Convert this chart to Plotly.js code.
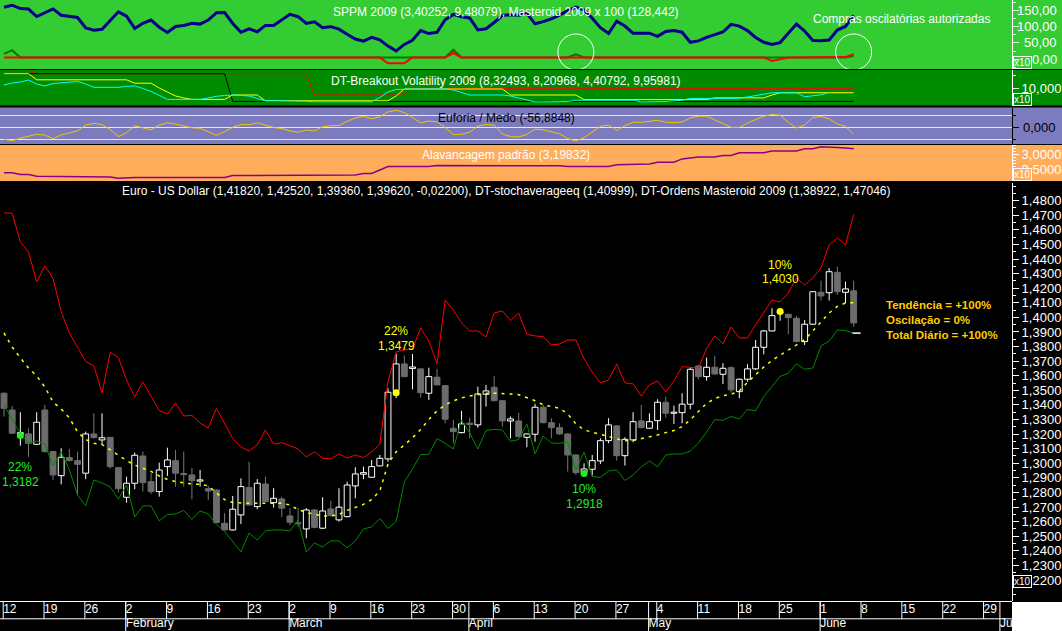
<!DOCTYPE html>
<html><head><meta charset="utf-8">
<script src="https://cdn.plot.ly/plotly-3.0.1.min.js"></script>
<style>html,body{margin:0;padding:0;background:#000;overflow:hidden}#chart{width:1062px;height:631px}</style>
</head><body><div id="chart"></div>
<script>
// ---------------- DATA ----------------
const firstDate = '2009-01-12';
const mainTitle = 'Euro - US Dollar (1,41820, 1,42520, 1,39360, 1,39620, -0,02200), DT-stochaverageeq (1,40999), DT-Ordens Masteroid 2009 (1,38922, 1,47046)';
const p1Title = 'SPPM 2009 (3,40252, 9,48079), Masteroid 2009 x 100 (128,442)';
const p1Note = 'Compras oscilatórias autorizadas';
const p2Title = 'DT-Breakout Volatility 2009 (8,32493, 8,20968, 4,40792, 9,95981)';
const p3Title = 'Euforia / Medo (-56,8848)';
const p4Title = 'Alavancagem padrão (3,19832)';
const summaryLines = ['Tendência = +100%', 'Oscilação = 0%', 'Total Diário = +100%'];

const open = [1.3480,1.3365,1.3200,1.3201,1.3130,1.3365,1.3080,1.2915,1.3039,1.3018,
1.2932,1.3201,1.3160,1.3178,1.2970,1.2767,1.2863,1.3050,1.2874,1.2806,
1.2977,1.3018,1.2930,1.2920,1.2878,1.2826,1.2817,1.2589,1.2543,1.2646,
1.2833,1.2703,1.2858,1.2730,1.2755,1.2639,1.2592,1.2550,1.2680,1.2555,
1.2687,1.2612,1.2634,1.2845,1.2925,1.2904,1.2982,1.3030,1.3498,1.3681,
1.3650,1.3647,1.3480,1.3590,1.3532,1.3240,1.3210,1.3275,1.3263,1.3473,
1.3521,1.3429,1.3290,1.3290,1.3178,1.3199,1.3384,1.3278,1.3244,1.3201,
1.3057,1.2936,1.2959,1.3016,1.3155,1.3256,1.3052,1.3160,1.3290,1.3240,
1.3292,1.3418,1.3343,1.3347,1.3405,1.3667,1.3594,1.3658,1.3610,1.3655,
1.3491,1.3576,1.3647,1.3795,1.3907,1.4030,1.4021,1.3994,1.3834,1.3953,
1.4172,1.4169,1.4309,1.4172,1.4182];
const high = [1.3485,1.3393,1.3350,1.3240,1.3350,1.3400,1.3085,1.3103,1.3098,1.3080,
1.3217,1.3343,1.3343,1.3180,1.2975,1.2908,1.3073,1.3080,1.2932,1.3004,
1.3107,1.3091,1.3080,1.2967,1.2954,1.2845,1.2820,1.2658,1.2776,1.2897,
1.3011,1.2891,1.2908,1.2829,1.2770,1.2692,1.2692,1.2692,1.2685,1.2767,
1.2744,1.2829,1.2874,1.2973,1.2977,1.3023,1.3057,1.3514,1.3749,1.3738,
1.3749,1.3650,1.3655,1.3647,1.3535,1.3297,1.3359,1.3313,1.3525,1.3537,
1.3598,1.3432,1.3320,1.3347,1.3205,1.3407,1.3400,1.3309,1.3274,1.3205,
1.3060,1.3000,1.3057,1.3171,1.3309,1.3260,1.3178,1.3350,1.3400,1.3343,
1.3439,1.3457,1.3395,1.3480,1.3658,1.3674,1.3724,1.3736,1.3686,1.3665,
1.3580,1.3679,1.3845,1.3914,1.4063,1.4045,1.4025,1.4010,1.3982,1.4180,
1.4252,1.4337,1.4348,1.4245,1.4252];
const low = [1.3320,1.3201,1.3120,1.3045,1.3128,1.3075,1.2886,1.2856,1.3015,1.2783,
1.2891,1.3170,1.3125,1.2963,1.2799,1.2730,1.2822,1.2806,1.2790,1.2771,
1.2913,1.2840,1.2840,1.2753,1.2840,1.2749,1.2590,1.2540,1.2540,1.2584,
1.2710,1.2685,1.2735,1.2696,1.2630,1.2577,1.2565,1.2486,1.2555,1.2550,
1.2635,1.2600,1.2630,1.2760,1.2891,1.2900,1.2980,1.3011,1.3446,1.3590,
1.3507,1.3450,1.3434,1.3535,1.3274,1.3137,1.3205,1.3172,1.3244,1.3388,
1.3425,1.3251,1.3172,1.3180,1.3110,1.3148,1.3275,1.3172,1.3195,1.2943,
1.2920,1.2920,1.2915,1.2995,1.3137,1.3018,1.2984,1.3144,1.3240,1.3238,
1.3228,1.3313,1.3270,1.3274,1.3370,1.3576,1.3566,1.3610,1.3544,1.3484,
1.3446,1.3559,1.3640,1.3747,1.3905,1.3977,1.3884,1.3830,1.3811,1.3950,
1.4115,1.4115,1.4154,1.4097,1.3936];
const close = [1.3377,1.3206,1.3210,1.3137,1.3281,1.3080,1.2920,1.3041,1.3018,1.2993,
1.3201,1.3176,1.3175,1.2977,1.2826,1.2863,1.3055,1.2867,1.2806,1.2954,
1.3023,1.2932,1.2922,1.2881,1.2886,1.2810,1.2593,1.2543,1.2685,1.2840,
1.2714,1.2863,1.2737,1.2760,1.2692,1.2596,1.2586,1.2680,1.2561,1.2673,
1.2641,1.2699,1.2851,1.2927,1.2936,1.2977,1.3034,1.3487,1.3681,1.3594,
1.3660,1.3484,1.3594,1.3537,1.3302,1.3217,1.3270,1.3265,1.3475,1.3496,
1.3429,1.3290,1.3304,1.3182,1.3201,1.3384,1.3278,1.3244,1.3201,1.3057,
1.2936,1.2961,1.3018,1.3155,1.3263,1.3052,1.3164,1.3285,1.3244,1.3285,
1.3418,1.3343,1.3350,1.3405,1.3644,1.3594,1.3658,1.3612,1.3651,1.3503,
1.3576,1.3647,1.3795,1.3907,1.4012,1.4035,1.3998,1.3834,1.3953,1.4176,
1.4147,1.4313,1.4176,1.4195,1.3962];
const ordensUpper = [1.4716,1.4714,1.4519,1.4448,1.4243,1.4352,1.4267,1.4039,1.3893,1.3797,
1.3698,1.3667,1.3482,1.3761,1.3725,1.3571,1.3455,1.3557,1.3461,1.3362,
1.3338,1.3413,1.3324,1.3328,1.3276,1.3242,1.3376,1.3276,1.3170,1.3112,
1.3084,1.3126,1.3228,1.3132,1.3141,1.3121,1.3098,1.3043,1.3078,1.3034,
1.3030,1.3064,1.3036,1.3057,1.3039,1.3078,1.3132,1.3560,1.3763,1.3777,
1.3784,1.3928,1.3838,1.3681,1.4119,1.4051,1.3962,1.3907,1.3907,1.3866,
1.4030,1.4044,1.3978,1.4030,1.3883,1.3873,1.3868,1.3811,1.3818,1.3845,
1.3845,1.3715,1.3626,1.3551,1.3571,1.3681,1.3551,1.3544,1.3461,1.3537,
1.3564,1.3489,1.3564,1.3662,1.3660,1.3653,1.3787,1.3873,1.3818,1.3934,
1.3859,1.3859,1.3948,1.4030,1.4119,1.4106,1.4167,1.4270,1.4222,1.4270,
1.4339,1.4496,1.4544,1.4496,1.4705];
const ordensLower = [1.3400,1.3304,1.3201,1.3139,1.3153,1.3132,1.2982,1.3078,1.2954,1.2783,
1.2708,1.2886,1.2865,1.2838,1.2755,1.2851,1.2632,1.2708,1.2708,1.2605,
1.2649,1.2653,1.2677,1.2615,1.2673,1.2653,1.2581,1.2533,1.2461,1.2392,
1.2522,1.2474,1.2536,1.2543,1.2543,1.2536,1.2612,1.2392,1.2454,1.2426,
1.2468,1.2468,1.2420,1.2468,1.2550,1.2564,1.2622,1.2553,1.2601,1.2872,
1.2961,1.3060,1.3062,1.3170,1.3136,1.3098,1.3297,1.3208,1.3098,1.3225,
1.3232,1.3228,1.3150,1.3163,1.3270,1.3064,1.3187,1.3139,1.3137,1.3146,
1.2954,1.3076,1.2910,1.2903,1.2947,1.2954,1.2882,1.2920,1.2975,1.3016,
1.2975,1.3057,1.3064,1.3064,1.3084,1.3139,1.3215,1.3300,1.3294,1.3321,
1.3304,1.3369,1.3359,1.3458,1.3527,1.3595,1.3617,1.3681,1.3644,1.3653,
1.3804,1.3838,1.3914,1.3909,1.3892];
const stochAvg = [1.3893,1.3797,1.3722,1.3653,1.3599,1.3523,1.3420,1.3372,1.3311,1.3215,
1.3163,1.3137,1.3129,1.3091,1.3057,1.3019,1.2988,1.2968,1.2944,1.2913,
1.2889,1.2875,1.2865,1.2858,1.2856,1.2845,1.2797,1.2751,1.2731,1.2726,
1.2726,1.2726,1.2726,1.2726,1.2726,1.2714,1.2683,1.2663,1.2649,1.2639,
1.2639,1.2649,1.2677,1.2697,1.2718,1.2752,1.2810,1.2995,1.3078,1.3126,
1.3174,1.3232,1.3300,1.3359,1.3400,1.3427,1.3448,1.3461,1.3472,1.3479,
1.3480,1.3480,1.3475,1.3470,1.3451,1.3429,1.3400,1.3386,1.3377,1.3338,
1.3270,1.3228,1.3215,1.3201,1.3184,1.3167,1.3155,1.3156,1.3167,1.3180,
1.3194,1.3210,1.3224,1.3252,1.3297,1.3355,1.3410,1.3444,1.3463,1.3473,
1.3496,1.3554,1.3610,1.3660,1.3705,1.3740,1.3773,1.3811,1.3847,1.3907,
1.3969,1.4030,1.4075,1.4099,1.4100];
const ordensLast = 1.38922;

const sigIndex = [2, 48, 71, 95];
const sigPrice = [1.3190, 1.3484, 1.2930, 1.4040];
const sigPct = ['22%', '22%', '10%', '10%'];
const sigLevel = ['1,3182', '1,3479', '1,2918', '1,4030'];
const sigSide = ['buy', 'sell', 'buy', 'sell'];

const sppm = [159.1,165.2,154.9,153.4,130.8,141.5,154.0,134.5,131.7,127.7,
95.7,88.7,92.0,120.1,145.1,132.0,94.5,110.1,119.8,98.2,
82.0,100.3,103.4,110.4,107.6,120.1,142.1,143.0,109.5,82.6,
93.0,83.8,103.7,103.7,120.1,137.5,130.2,109.8,114.6,96.6,
99.7,92.1,76.5,62.2,55.8,67.4,59.8,40.5,25.9,45.7,
58.5,87.8,78.7,82.6,121.0,137.2,129.6,126.2,89.9,93.6,
112.5,133.8,136.3,134.8,140.2,108.5,115.2,123.5,134.8,148.5,
159.5,150.9,125.3,96.6,79.0,116.2,101.8,79.6,79.6,79.9,
70.1,85.1,88.1,82.9,52.1,56.4,67.1,76.2,83.5,106.7,
101.5,87.8,66.8,52.1,45.7,51.2,80.5,107.9,86.6,57.6,
57.0,59.1,89.6,100.3,134.5];
const masteroid = [6,6,6,6,6,6,6,6,6,6, 6,6,6,6,6,6,6,6,6,6, 6,6,6,6,6,6,6,6,6,6, 6,6,6,6,6,6,6,6,6,6,
6,6,6,6,6,6,6,-11.6,-11.6,-11.6, 6,6,6,6,6,19.5,6,6,6,6, 6,6,6,6,6,6,6,6,6,6, 6,6,6,6,6,6,6,6,6,6,
6,6,6,6,6,6,6,6,6,6, 6,6,6,6,-5,0,6,6,6,6, 6,6,6,7,15.5];
const masteroidAux = [17,28,6,6,6,6,6,6,6,6, 6,6,6,6,6,6,6,6,6,6, 6,6,6,6,6,6,6,6,6,6, 6,6,6,6,6,6,6,6,6,6,
6,6,6,6,6,6,6,6,6,6, 6,6,6,6,6,29.6,6,6,6,6, 6,6,6,6,6,6,6,6,6,6, 15.5,6,6,6,6,6,6,6,6,6,
6,6,6,6,6,6,6,6,6,6, 6,6,6,6,6,6,6,6,6,6, 6,6,6,6,10];
const circleIndex = [70, 104];
const circleLevel = [22.6, 22.6];

const bvRed = [16.59,16.59,16.59,16.59,15.69,15.69,15.69,15.69,15.69,15.69,
15.69,15.69,15.69,15.69,15.69,15.69,15.69,15.69,15.69,15.69,
15.69,15.69,15.69,15.69,15.69,15.69,15.69,15.69,15.69,15.69,
15.69,15.69,15.69,15.69,15.69,15.69,15.69,15.69,7.33,7.33,
7.33,7.33,7.33,7.33,7.33,7.33,7.33,7.33,7.33,7.33,
9.96,9.96,9.96,9.96,9.96,9.96,9.96,9.96,9.96,9.96,
9.96,9.96,9.96,9.96,9.96,9.96,9.96,9.96,9.96,9.96,
9.96,9.96,9.96,9.96,9.96,9.96,9.96,9.96,9.96,9.96,
9.96,9.96,9.96,9.96,9.96,9.96,9.96,9.96,9.96,9.96,
9.96,9.96,9.96,9.96,9.96,9.96,9.96,9.96,9.96,9.96,
9.96,9.96,9.96,9.96,9.96];
const bvBlack = [15.69,15.69,15.69,15.69,15.69,15.69,15.69,15.69,15.69,15.69,
15.69,15.69,15.69,15.69,15.69,15.69,15.69,15.69,15.69,15.69,
15.69,15.69,15.69,15.69,15.69,15.69,15.69,15.69,4.8,4.8,
4.8,4.8,4.8,4.8,4.8,4.8,4.8,4.8,4.8,4.8,
4.8,4.8,4.8,4.8,4.8,4.8,4.8,4.8,4.8,4.8,
4.8,4.8,4.8,4.8,4.8,4.8,4.8,4.8,4.8,4.8,
4.8,4.8,4.8,4.8,4.8,4.8,4.8,4.8,4.8,4.8,
4.8,4.8,4.8,4.8,4.8,4.8,4.8,4.8,4.8,4.8,
4.8,4.8,4.8,4.8,4.8,4.8,4.8,4.8,4.8,4.8,
4.8,4.8,4.8,4.8,4.8,4.8,4.8,4.8,4.8,4.8,
4.8,4.8,4.8,4.8,4.8];
const bvYellow = [15.69,15.69,15.69,15.69,13.29,13.29,13.29,13.29,13.29,13.29,
13.29,13.29,13.29,13.29,13.29,13.29,11.96,11.96,11.96,10.08,
8.51,6.94,6.16,5.61,5.61,5.61,5.61,5.61,7.33,7.33,
7.33,7.33,5.06,5.06,5.06,5.06,5.06,5.06,5.06,5.06,
5.06,5.06,5.06,5.06,5.06,5.06,5.06,5.06,6.94,9.69,
9.69,9.69,9.69,9.69,9.69,9.69,9.69,9.69,9.69,9.69,
9.69,9.69,7.33,7.33,7.33,7.33,7.33,7.33,7.33,7.33,
7.33,5.53,5.53,5.53,5.53,5.53,5.53,5.53,5.53,5.53,
5.53,5.53,5.53,5.53,5.53,5.53,5.53,6.20,6.20,6.20,
6.20,6.20,6.20,6.20,7.33,8.21,8.21,8.21,8.21,8.21,
8.21,8.21,8.21,8.21,8.21];
const bvCyan = [11.25,12.04,12.43,13.21,11.65,10.86,11.84,12.12,12.43,12.63,
11.65,10.35,10.35,10.35,10.35,10.67,10.94,9.88,8.71,7.21,
5.61,5.61,5.61,5.61,5.61,6.16,6.82,7.14,7.33,7.14,
6.94,5.96,5.06,5.06,5.06,5.06,5.06,4.86,4.67,4.67,
4.67,4.67,4.67,4.67,4.67,4.67,6.35,8.51,9.49,9.69,
9.69,9.69,9.69,9.69,9.69,9.29,8.39,7.33,7.33,7.33,
7.33,7.33,6.94,6.16,5.18,4.63,4.63,4.63,4.63,4.78,
5.29,5.29,5.29,5.29,5.29,5.29,5.29,5.29,4.63,4.63,
4.63,4.78,5.06,5.29,5.96,5.96,5.96,5.96,5.96,5.96,
6.08,6.55,7.02,7.53,8.20,8.20,8.20,8.20,6.63,7.06,
7.41,8.32,null,null,null];

const euforia = [-97.6,-108.9,-89.4,-70.7,-56.9,-62.6,-92.7,-61.8,-43.1,-29.3,
17.9,31.7,22.8,-17.9,-75.6,-43.1,12.2,-7.3,-21.1,17.9,
36.6,26.0,12.2,-4.1,-7.3,-37.4,-65.0,-35.0,0.8,22.8,
20.3,36.6,14.6,-1.6,-9.8,-29.3,-39.8,-21.1,-29.3,4.1,
12.2,14.6,48.0,75.6,89.4,69.9,86.2,125.2,138.2,119.5,
80.5,36.6,50.4,44.7,-1.6,-59.3,-56.9,-39.8,9.8,22.8,
17.9,-53.7,-75.6,-78.9,-56.9,-14.6,-20.3,-34.1,-52.8,-91.9,
-111.4,-83.7,-36.6,7.3,18.7,-25.2,13.0,40.7,40.7,48.8,
56.9,40.7,38.2,43.1,76.4,90.2,90.2,60.2,26.8,-0.8,
-0.8,35.0,62.6,90.2,104.1,98.4,40.7,-6.5,18.7,79.7,
87.8,68.3,26.8,7.3,-56.88];

const alavancagem = [2.370,2.370,2.312,2.312,2.253,2.253,2.253,2.253,2.253,2.253,
2.229,2.229,2.229,2.229,2.184,2.208,2.208,2.208,2.208,2.208,
2.208,2.208,2.208,2.208,2.208,2.208,2.208,2.208,2.277,2.277,
2.277,2.277,2.277,2.277,2.277,2.295,2.295,2.295,2.295,2.295,
2.295,2.295,2.295,2.295,2.346,2.346,2.467,2.588,2.588,2.588,
2.588,2.588,2.588,2.622,2.622,2.622,2.622,2.622,2.622,2.615,
2.615,2.615,2.615,2.615,2.615,2.615,2.615,2.615,2.615,2.591,
2.591,2.591,2.591,2.591,2.591,2.650,2.650,2.650,2.674,2.674,
2.733,2.733,2.733,2.850,2.884,2.919,2.919,2.919,2.967,2.967,
3.060,3.060,3.060,3.060,3.119,3.119,3.119,3.119,3.198,3.198,
3.270,3.270,3.246,3.222,3.198];

// ---------------- BUILD ----------------
const FONT = 'Liberation Sans, Arial, sans-serif';
const N = open.length;
const idx = open.map((_, i) => i);

function tradingDays(startISO, count) {
  const out = [];
  const d = new Date(startISO + 'T00:00:00Z');
  while (out.length < count) {
    const wd = d.getUTCDay();
    if (wd !== 0 && wd !== 6) out.push(new Date(d.getTime()));
    d.setUTCDate(d.getUTCDate() + 1);
  }
  return out;
}
const axisDays = tradingDays(firstDate, 124);
const monthNames = ['January','February','March','April','May','June','July','August'];

// layout geometry (pixels -> paper)
const H = 631, W = 1062, PW = 1012;
const py = y => 1 - y / H;
const XR = W / PW;
const dom = {
  main: [py(601), py(183)],
  p4: [py(181), py(145)],
  p3: [py(144), py(107.5)],
  p2: [py(105.5), py(70)],
  p1: [py(69), 1],
  date: [0, py(601)]
};

const traces = [];
const up = idx.map(i => close[i] >= open[i]);
const WHITE = '#ffffff', GRAY = '#6c6c6c';

function wickTrace(sel, color) {
  const x = [], y = [];
  idx.forEach(i => {
    if (up[i] !== sel) return;
    const top = Math.max(open[i], close[i]), bot = Math.min(open[i], close[i]);
    x.push(i, i, null, i, i, null);
    y.push(low[i], bot, null, top, high[i], null);
  });
  return {type: 'scatter', mode: 'lines', x, y, xaxis: 'x', yaxis: 'y',
    line: {color, width: 1}, hoverinfo: 'skip', connectgaps: false};
}
traces.push(wickTrace(true, WHITE));
traces.push(wickTrace(false, '#787878'));
traces.push({type: 'bar', x: idx,
  base: idx.map(i => Math.min(open[i], close[i])),
  y: idx.map(i => Math.max(Math.abs(close[i] - open[i]), 0.0002)),
  width: 0.72, xaxis: 'x', yaxis: 'y', hoverinfo: 'skip',
  marker: {color: up.map(u => u ? '#000000' : GRAY),
           line: {color: up.map(u => u ? WHITE : GRAY), width: 1}}});
traces.push({type: 'scatter', mode: 'lines', x: idx, y: ordensUpper, xaxis: 'x', yaxis: 'y',
  line: {color: '#ff0000', width: 1}, hoverinfo: 'skip'});
traces.push({type: 'scatter', mode: 'lines', x: idx, y: ordensLower, xaxis: 'x', yaxis: 'y',
  line: {color: '#008a00', width: 1}, hoverinfo: 'skip'});
traces.push({type: 'scatter', mode: 'lines', x: idx, y: stochAvg, xaxis: 'x', yaxis: 'y',
  line: {color: '#ffff00', width: 1.5, dash: '3px,5px'}, hoverinfo: 'skip'});
traces.push({type: 'scatter', mode: 'lines', x: [N - 1 - 0.15, N - 1 + 0.85], y: [ordensLast, ordensLast],
  xaxis: 'x', yaxis: 'y', line: {color: WHITE, width: 1.5}, hoverinfo: 'skip'});
const sigColor = sigSide.map(s => s === 'buy' ? '#22ee22' : '#ffff00');
traces.push({type: 'scatter', mode: 'markers', x: sigIndex, y: sigPrice, xaxis: 'x', yaxis: 'y',
  marker: {color: sigColor, size: 7, line: {width: 0}}, hoverinfo: 'skip'});

// panel 1
traces.push({type: 'scatter', mode: 'lines', x: idx, y: masteroidAux, xaxis: 'x', yaxis: 'y5',
  line: {color: '#007a00', width: 2}, hoverinfo: 'skip'});
traces.push({type: 'scatter', mode: 'lines', x: idx, y: masteroid, xaxis: 'x', yaxis: 'y5',
  line: {color: '#ff0000', width: 2}, hoverinfo: 'skip'});
traces.push({type: 'scatter', mode: 'lines', x: idx, y: sppm, xaxis: 'x', yaxis: 'y5',
  line: {color: '#00008b', width: 3}, hoverinfo: 'skip'});
// panel 2
[[bvRed, '#ff0000'], [bvBlack, '#000000'], [bvYellow, '#ffff00'], [bvCyan, '#00ffff']].forEach(([s, c]) => {
  traces.push({type: 'scatter', mode: 'lines', x: idx, y: s, xaxis: 'x', yaxis: 'y4',
    line: {color: c, width: 1}, hoverinfo: 'skip'});
});
// panel 3
traces.push({type: 'scatter', mode: 'lines', x: idx, y: euforia, xaxis: 'x', yaxis: 'y3',
  line: {color: '#f2c800', width: 1}, hoverinfo: 'skip'});
// panel 4
traces.push({type: 'scatter', mode: 'lines', x: idx, y: alavancagem, xaxis: 'x', yaxis: 'y2',
  line: {color: '#8b008b', width: 1.5}, hoverinfo: 'skip'});

// date strip labels
const weekX = [], weekTxt = [], monthX = [], monthTxt = [];
axisDays.forEach((d, i) => {
  if (d.getUTCDay() === 1) { weekX.push(i - 0.1); weekTxt.push(String(d.getUTCDate())); }
  if (i > 0 && d.getUTCMonth() !== axisDays[i - 1].getUTCMonth()) { monthX.push(i - 0.1); monthTxt.push(monthNames[d.getUTCMonth()]); }
});
traces.push({type: 'scatter', mode: 'text', x: weekX, y: weekX.map(() => 9.3), text: weekTxt,
  textposition: 'middle right', textfont: {color: WHITE, size: 12, family: FONT},
  xaxis: 'x', yaxis: 'y6', hoverinfo: 'skip', cliponaxis: true});
traces.push({type: 'scatter', mode: 'text', x: monthX, y: monthX.map(() => 22.6), text: monthTxt,
  textposition: 'middle right', textfont: {color: WHITE, size: 12, family: FONT},
  xaxis: 'x', yaxis: 'y6', hoverinfo: 'skip', cliponaxis: true});

// shapes
const shapes = [];
function bg(d, color) {
  shapes.push({type: 'rect', xref: 'paper', yref: 'paper', x0: 0, x1: XR, y0: d[0], y1: d[1],
    fillcolor: color, line: {width: 0}, layer: 'below'});
}
bg(dom.p1, '#33cc33');
bg(dom.p2, '#008c00');
bg(dom.p3, '#7b7bbd');
bg(dom.p4, '#ffad5b');
shapes.push({type: 'rect', xref: 'paper', yref: 'paper', x0: 1, x1: XR, y0: 0, y1: py(602),
  fillcolor: WHITE, line: {width: 0}, layer: 'below'});
[0.5, 17.8].forEach(v => shapes.push({type: 'line', xref: 'paper', yref: 'y6', x0: 0, x1: 1, y0: v, y1: v,
  line: {color: WHITE, width: 1}}));
weekX.forEach(x => shapes.push({type: 'line', xref: 'x', yref: 'y6', x0: x, x1: x, y0: 0, y1: 17.8,
  line: {color: WHITE, width: 1}}));
monthX.forEach(x => shapes.push({type: 'line', xref: 'x', yref: 'y6', x0: x, x1: x, y0: 0, y1: 30,
  line: {color: WHITE, width: 1}}));
circleIndex.forEach((ci, k) => shapes.push({type: 'circle', xref: 'x', yref: 'y5',
  xsizemode: 'pixel', ysizemode: 'pixel', xanchor: ci, yanchor: circleLevel[k],
  x0: -18, x1: 18, y0: -18, y1: 18, line: {color: WHITE, width: 1}}));

// annotations
const ann = [];
function txt(text, x, y, color, size, extra) {
  ann.push(Object.assign({text, x, y, xref: 'paper', yref: 'paper', showarrow: false,
    font: {color, size, family: FONT}, xanchor: 'center', yanchor: 'middle'}, extra || {}));
}
txt(mainTitle, 0.5, py(191), WHITE, 12);
txt(p1Title, 0.5, py(12), WHITE, 12);
txt(p1Note, 901 / PW, py(19), WHITE, 12);
txt(p2Title, 0.5, py(80.5), WHITE, 12);
txt(p3Title, 0.5, py(118), '#000000', 12);
txt(p4Title, 0.5, py(155.2), WHITE, 12);
txt('<b>' + summaryLines.join('<br>') + '</b>', 884 / PW, py(320), '#ffcc00', 11.5, {xanchor: 'left', align: 'left'});
const sigOffsets = [[-31, -46], [62, 47], [-16, -31], [47, 33]];
sigIndex.forEach((si, k) => {
  [sigPct[k], sigLevel[k]].forEach((t, j) => {
    ann.push({text: t, x: si, y: sigPrice[k], xref: 'x', yref: 'y', showarrow: false,
      yshift: sigOffsets[k][j], xanchor: 'center', yanchor: 'middle',
      font: {color: sigColor[k], size: 12, family: FONT}});
  });
});
[0, 50, 100, 150].forEach(v => ann.push({text: v.toFixed(2).replace('.', ','), x: 1059 / PW, y: v,
  xref: 'paper', yref: 'y5', xanchor: 'right', yanchor: 'middle', showarrow: false,
  font: {color: WHITE, size: 13, family: FONT}}));
ann.push({text: '0,000', x: 1058 / PW, y: 0, xref: 'paper', yref: 'y3', xanchor: 'right', yanchor: 'middle',
  showarrow: false, font: {color: '#000000', size: 13, family: FONT}});
[[py(69), 'rgba(0,0,0,0)'], [py(105.5), '#008c00'], [py(181), '#ffad5b'], [py(588), '#000000']].forEach(([y, c]) => {
  ann.push({text: 'x10', x: 1013.5 / PW, y, xref: 'paper', yref: 'paper', xanchor: 'left', yanchor: 'bottom',
    showarrow: false, bordercolor: WHITE, borderwidth: 1, borderpad: 0, bgcolor: c,
    font: {color: WHITE, size: 10, family: FONT}});
});

const mainTicks = [];
for (let k = 122; k <= 148; k++) mainTicks.push(k / 100);

function yax(domain, range, color, extra) {
  return Object.assign({domain, range, anchor: 'x', side: 'right', showline: true, linecolor: color, linewidth: 1,
    ticks: 'outside', tickcolor: color, ticklen: 6, showgrid: false, zeroline: false, fixedrange: true,
    tickfont: {color, size: 13, family: FONT}}, extra);
}

const layout = {
  width: W, height: H, margin: {l: 0, r: 50, t: 0, b: 0, pad: 0},
  paper_bgcolor: '#000000', plot_bgcolor: 'rgba(0,0,0,0)', showlegend: false,
  separators: ', ', font: {family: FONT},
  xaxis: {domain: [0, 1], range: [-0.49, 123.38], visible: false, anchor: 'y', fixedrange: true},
  yaxis: yax(dom.main, [1.2056, 1.4921], WHITE, {tickmode: 'array', tickvals: mainTicks, tickformat: '.4f',
    minor: {dtick: 0.005, tick0: 1.2, ticklen: 3, tickcolor: WHITE, ticks: 'outside'}}),
  yaxis2: yax(dom.p4, [2.088, 3.329], WHITE, {tickmode: 'array', tickvals: [2.5, 3.0], tickformat: '.4f',
    minor: {dtick: 0.1, tick0: 2, ticklen: 3, tickcolor: WHITE, ticks: 'outside'}}),
  yaxis3: yax(dom.p3, [-135.8, 161], '#000000', {tickmode: 'array', tickvals: [0], showticklabels: false,
    showgrid: true, gridcolor: '#e6e6f5', gridwidth: 1,
    minor: {tickmode: 'array', tickvals: [-100, 100], ticklen: 3, tickcolor: '#000000', ticks: 'outside',
      showgrid: true, gridcolor: '#e6e6f5', gridwidth: 1}}),
  yaxis4: yax(dom.p2, [3.21, 17.14], WHITE, {tickmode: 'array', tickvals: [10], tickformat: '.3f',
    minor: {tickmode: 'array', tickvals: [5, 15], ticklen: 3, tickcolor: WHITE, ticks: 'outside'}}),
  yaxis5: yax(dom.p1, [-29.3, 181.1], WHITE, {tickmode: 'array', tickvals: [0, 50, 100, 150], showticklabels: false,
    minor: {dtick: 25, tick0: 0, ticklen: 3, tickcolor: WHITE, ticks: 'outside'}}),
  yaxis6: {domain: dom.date, range: [30, 0], anchor: 'x', visible: false, fixedrange: true},
  shapes, annotations: ann
};

Plotly.newPlot('chart', traces, layout, {displayModeBar: false, staticPlot: true});
</script>
</body></html>
